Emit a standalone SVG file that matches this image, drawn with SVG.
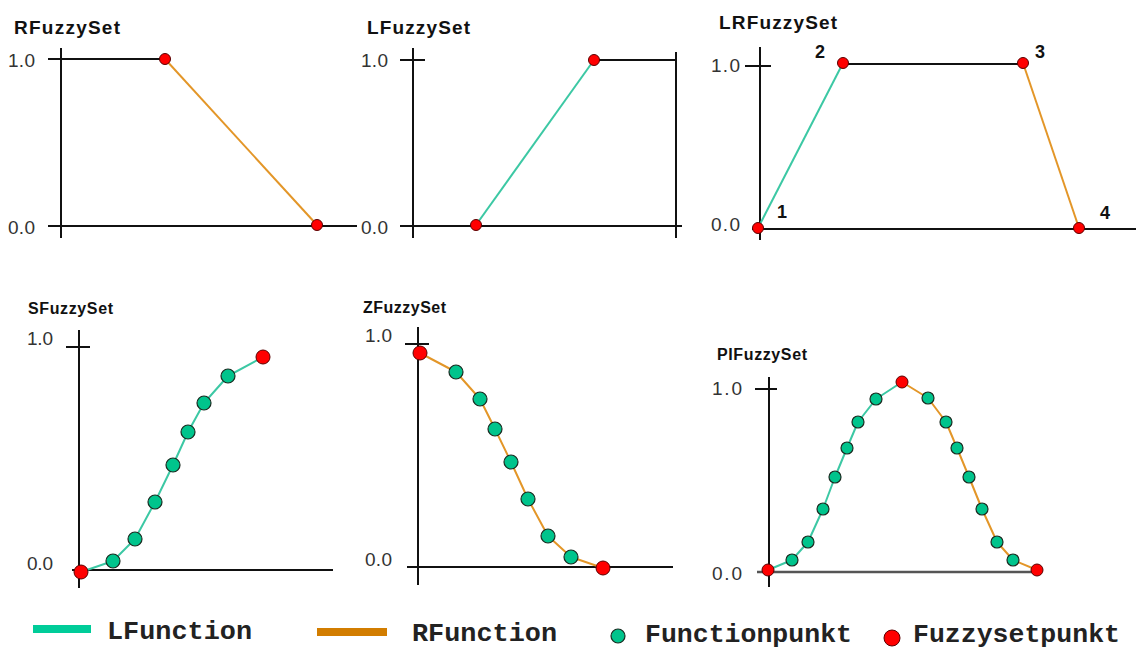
<svg xmlns="http://www.w3.org/2000/svg" width="1136" height="650" viewBox="0 0 1136 650">
<style>
.ax{stroke:#111;stroke-width:2;fill:none}
.axg{stroke:#555;stroke-width:2.5;fill:none}
.lf{stroke:#3cc8a4;stroke-width:2;fill:none;stroke-linejoin:round}
.rf{stroke:#e39628;stroke-width:2;fill:none;stroke-linejoin:round}
.fp{fill:#ff0000;stroke:#5a0000;stroke-width:1}
.gp{fill:#00c48c;stroke:#1a2a20;stroke-width:1.2}
.t1{font-family:"Liberation Sans",Arial,sans-serif;font-weight:bold;font-size:19px;fill:#111}
.t2{font-family:"Liberation Sans",Arial,sans-serif;font-weight:bold;font-size:16px;fill:#111}
.v{font-family:"Liberation Sans",Arial,sans-serif;font-size:19px;fill:#333}
.n{font-family:"Liberation Sans",Arial,sans-serif;font-weight:bold;font-size:18px;fill:#111}
.lg{font-family:"Liberation Mono","Courier New",monospace;font-weight:bold;font-size:25px;fill:#222}
</style>
<rect width="1136" height="650" fill="#fff"/>

<g id="rfuzzyset">
<text class="t1" x="14" y="34" textLength="106" lengthAdjust="spacing">RFuzzySet</text>
<text class="v" x="8" y="67" textLength="27" lengthAdjust="spacing">1.0</text>
<text class="v" x="8" y="234" textLength="27" lengthAdjust="spacing">0.0</text>
<line class="ax" x1="61" y1="48" x2="61" y2="238"/>
<line class="ax" x1="48" y1="59" x2="165" y2="59"/>
<line class="ax" x1="48" y1="226" x2="357" y2="226"/>
<line class="rf" x1="165" y1="59" x2="317" y2="225"/>
<circle class="fp" cx="165" cy="59" r="5.5"/>
<circle class="fp" cx="317" cy="225" r="5.5"/>
</g>

<g id="lfuzzyset">
<text class="t1" x="367" y="34" textLength="103" lengthAdjust="spacing">LFuzzySet</text>
<text class="v" x="361" y="67" textLength="27" lengthAdjust="spacing">1.0</text>
<text class="v" x="361" y="234" textLength="27" lengthAdjust="spacing">0.0</text>
<line class="ax" x1="413" y1="48" x2="413" y2="238"/>
<line class="ax" x1="676" y1="52" x2="676" y2="238"/>
<line class="ax" x1="400" y1="60" x2="425" y2="60"/>
<line class="ax" x1="594" y1="60" x2="676" y2="60"/>
<line class="ax" x1="400" y1="226" x2="682" y2="226"/>
<line class="lf" x1="476" y1="225" x2="594" y2="60"/>
<circle class="fp" cx="476" cy="225" r="5.5"/>
<circle class="fp" cx="594" cy="60" r="5.5"/>
</g>

<g id="lrfuzzyset">
<text class="t1" x="719" y="29" textLength="118" lengthAdjust="spacing">LRFuzzySet</text>
<text class="v" x="711" y="72" textLength="29" lengthAdjust="spacing">1.0</text>
<text class="v" x="711" y="231" textLength="29" lengthAdjust="spacing">0.0</text>
<line class="ax" x1="760" y1="47" x2="760" y2="240"/>
<line class="ax" x1="745" y1="66" x2="771" y2="66"/>
<line class="ax" x1="843" y1="64" x2="1023" y2="64"/>
<line class="ax" x1="752" y1="229" x2="1136" y2="229"/>
<line class="lf" x1="758" y1="228" x2="843" y2="63"/>
<line class="rf" x1="1023" y1="63" x2="1079" y2="228"/>
<circle class="fp" cx="758" cy="228" r="5.5"/>
<circle class="fp" cx="843" cy="63" r="5.5"/>
<circle class="fp" cx="1023" cy="63" r="5.5"/>
<circle class="fp" cx="1079" cy="228" r="5.5"/>
<text class="n" x="777" y="218">1</text>
<text class="n" x="815" y="58">2</text>
<text class="n" x="1035" y="58">3</text>
<text class="n" x="1100" y="219">4</text>
</g>

<g id="sfuzzyset">
<text class="t2" x="28" y="314" textLength="85" lengthAdjust="spacing">SFuzzySet</text>
<text class="v" x="27" y="345" textLength="26" lengthAdjust="spacing">1.0</text>
<text class="v" x="27" y="570" textLength="26" lengthAdjust="spacing">0.0</text>
<line class="ax" x1="79" y1="330" x2="79" y2="588"/>
<line class="ax" x1="66" y1="347" x2="90" y2="347"/>
<line class="ax" x1="72" y1="570" x2="333" y2="570" stroke="#333"/>
<polyline class="lf" points="81,572 113,561 135,539 155,502 173,465 188,432 204,403 228,376 263,357"/>
<circle class="fp" cx="81" cy="572" r="7"/>
<circle class="gp" cx="113" cy="561" r="7"/>
<circle class="gp" cx="135" cy="539" r="7"/>
<circle class="gp" cx="155" cy="502" r="7"/>
<circle class="gp" cx="173" cy="465" r="7"/>
<circle class="gp" cx="188" cy="432" r="7"/>
<circle class="gp" cx="204" cy="403" r="7"/>
<circle class="gp" cx="228" cy="376" r="7"/>
<circle class="fp" cx="263" cy="357" r="7"/>
</g>

<g id="zfuzzyset">
<text class="t2" x="363" y="313" textLength="83" lengthAdjust="spacing">ZFuzzySet</text>
<text class="v" x="365" y="342" textLength="27" lengthAdjust="spacing">1.0</text>
<text class="v" x="365" y="566" textLength="27" lengthAdjust="spacing">0.0</text>
<line class="ax" x1="418" y1="327" x2="418" y2="585"/>
<line class="ax" x1="405" y1="344" x2="429" y2="344"/>
<line class="ax" x1="407" y1="567" x2="673" y2="567"/>
<polyline class="rf" points="420,353 456,372 480,399 495,429 511,462 528,499 548,536 571,557 603,568"/>
<circle class="fp" cx="420" cy="353" r="7"/>
<circle class="gp" cx="456" cy="372" r="7"/>
<circle class="gp" cx="480" cy="399" r="7"/>
<circle class="gp" cx="495" cy="429" r="7"/>
<circle class="gp" cx="511" cy="462" r="7"/>
<circle class="gp" cx="528" cy="499" r="7"/>
<circle class="gp" cx="548" cy="536" r="7"/>
<circle class="gp" cx="571" cy="557" r="7"/>
<circle class="fp" cx="603" cy="568" r="7"/>
</g>

<g id="pifuzzyset">
<text class="t2" x="717" y="360" textLength="90" lengthAdjust="spacing">PIFuzzySet</text>
<text class="v" x="712" y="395" textLength="30" lengthAdjust="spacing">1.0</text>
<text class="v" x="712" y="580" textLength="30" lengthAdjust="spacing">0.0</text>
<line class="ax" x1="769" y1="377" x2="769" y2="587"/>
<line class="ax" x1="755" y1="389" x2="777" y2="389"/>
<line class="axg" x1="757" y1="572" x2="1038" y2="572"/>
<polyline class="lf" points="768,570 792,560 808,542 823,509 835,477 847,448 858,422 876,399 902,382"/>
<polyline class="rf" points="902,382 928,398 946,422 957,448 969,477 982,509 997,542 1013,560 1037,570"/>
<circle class="fp" cx="768" cy="570" r="6"/>
<circle class="gp" cx="792" cy="560" r="6"/>
<circle class="gp" cx="808" cy="542" r="6"/>
<circle class="gp" cx="823" cy="509" r="6"/>
<circle class="gp" cx="835" cy="477" r="6"/>
<circle class="gp" cx="847" cy="448" r="6"/>
<circle class="gp" cx="858" cy="422" r="6"/>
<circle class="gp" cx="876" cy="399" r="6"/>
<circle class="fp" cx="902" cy="382" r="6"/>
<circle class="gp" cx="928" cy="398" r="6"/>
<circle class="gp" cx="946" cy="422" r="6"/>
<circle class="gp" cx="957" cy="448" r="6"/>
<circle class="gp" cx="969" cy="477" r="6"/>
<circle class="gp" cx="982" cy="509" r="6"/>
<circle class="gp" cx="997" cy="542" r="6"/>
<circle class="gp" cx="1013" cy="560" r="6"/>
<circle class="fp" cx="1037" cy="570" r="6"/>
</g>

<g id="legend">
<rect x="33" y="625" width="58" height="8" fill="#00cc99"/>
<text class="lg" x="107" y="639" textLength="145" lengthAdjust="spacingAndGlyphs">LFunction</text>
<rect x="317" y="628" width="70" height="8" fill="#d27d00"/>
<text class="lg" x="412" y="641" textLength="145" lengthAdjust="spacingAndGlyphs">RFunction</text>
<circle class="gp" cx="618" cy="636" r="7"/>
<text class="lg" x="645" y="642" textLength="207" lengthAdjust="spacingAndGlyphs">Functionpunkt</text>
<circle class="fp" cx="892" cy="638" r="8"/>
<text class="lg" x="913" y="642" textLength="207" lengthAdjust="spacingAndGlyphs">Fuzzysetpunkt</text>
</g>
</svg>
